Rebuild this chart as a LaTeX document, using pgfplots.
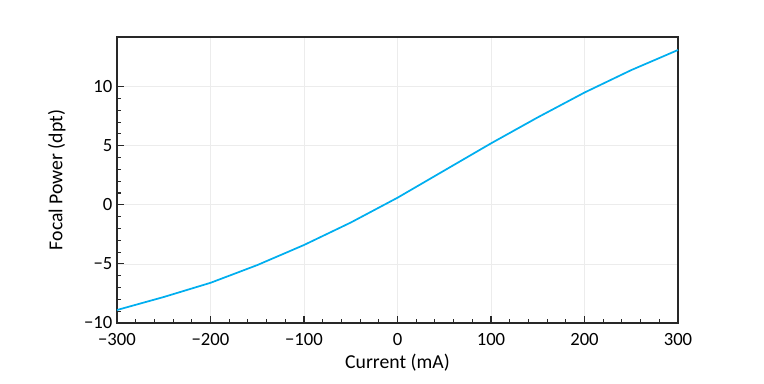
\documentclass[border=0pt]{standalone}
\usepackage{pgfplots}
\pgfplotsset{compat=1.18}
\usepackage{fontspec}
\setmainfont{Carlito}
\definecolor{linec}{RGB}{0,174,239}
\definecolor{axc}{RGB}{40,40,40}
\begin{document}
\begin{tikzpicture}
\path[use as bounding box] (0,0) rectangle (573pt,287.25pt);
\begin{axis}[
  at={(87.75pt,45pt)}, anchor=south west,
  scale only axis,
  width=420.75pt, height=214.5pt,
  xmin=-300, xmax=300, ymin=-10, ymax=14.2,
  xtick={-300,-200,...,300},
  xticklabels={−300,−200,−100,0,100,200,300},
  ytick={-10,-5,0,5,10},
  yticklabels={−10,−5,0,5,10},
  minor x tick num=4, minor y tick num=4,
  tick pos=left, tick align=inside,
  major tick length=5pt, minor tick length=3pt,
  every tick/.style={axc, line width=0.8pt},
  axis line style={axc, line width=1.2pt},
  grid=major,
  major grid style={gray!15, line width=0.6pt},
  tick label style={font=\fontsize{14}{16}\selectfont},
  xticklabel style={yshift=-4pt},
  label style={font=\fontsize{14.8}{17}\selectfont},
  xlabel={Current (mA)},
  ylabel={Focal Power (dpt)},
  ylabel style={yshift=7pt},
  clip=false,
]
\addplot[linec, line width=1.3pt] coordinates {
(-300,-8.9) (-250,-7.8) (-200,-6.6) (-150,-5.1) (-100,-3.4) (-50,-1.5)
(0,0.6) (50,2.9) (100,5.2) (150,7.4) (200,9.5) (250,11.4) (300,13.1)
};
\end{axis}
\end{tikzpicture}
\end{document}
